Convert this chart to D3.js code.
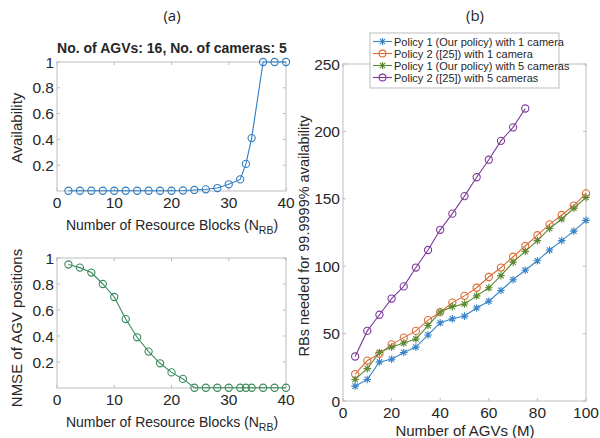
<!DOCTYPE html>
<html>
<head>
<meta charset="utf-8">
<script src="https://cdn.jsdelivr.net/npm/d3@7"></script>
<style>
  body { margin: 0; background: #fff; }
  svg { display: block; }
  text { font-family: "Liberation Sans", Arial, Helvetica, sans-serif; fill: #262626; }
</style>
</head>
<body>
<div id="chart"></div>
<script>
// data

// (a) top: availability vs number of RBs
const rbBlocks = [2,4,6,8,10,12,14,16,18,20,22,24,26,28,30,32,33,34,36,38,40]
const availability = [0.002,0.002,0.002,0.002,0.002,0.002,0.002,0.002,0.002,0.002,0.004,0.008,0.013,0.023,0.052,0.09,0.21,0.41,1,1,1]
// (a) bottom: NMSE vs number of RBs
const nmse = [0.95,0.926,0.888,0.80,0.70,0.53,0.39,0.28,0.19,0.12,0.07,0.002,0.002,0.002,0.002,0.002,0.002,0.002,0.002,0.002,0.002]

// (b) RBs needed vs number of AGVs
const agvs = [5,10,15,20,25,30,35,40,45,50,55,60,65,70,75,80,85,90,95,100]
const policy1Cam1 = [11,16,29,31,36,40,49,58,61,63,69,74,82,90,97,104,112,119,126,134]
const policy2Cam1 = [20,30,35,42,47,52,60,66,73,78,84,92,99,107,115,123,131,138,145,154]
const policy1Cam5 = [16,24,36,40,43,46,56,66,70,72,78,84,93,103,111,119,128,135,143,151]
const policy2Cam5 = [33,52,64,76,85,99,112,127,139,152,166,179,193,203,217]

const legendLabels = [
    'Policy 1 (Our policy) with 1 camera',
    'Policy 2 ([25]) with 1 camera',
    'Policy 1 (Our policy) with 5 cameras',
    'Policy 2 ([25]) with 5 cameras'
]

const W = 600, H = 438
const boxColor = '#bdbdbd'
const tickFont = 15.5

let svg = d3.select('#chart').append('svg')
    .attr('width', W)
    .attr('height', H)

// asterisk marker like matlab '*'
function starPath(r) {
    let d = r * 0.72
    return `M${-r},0L${r},0M0,${-r}L0,${r}M${-d},${-d}L${d},${d}M${-d},${d}L${d},${-d}`
}

// draw one axes box with inward ticks on all sides
function drawAxes(x, y, xTicks, yTicks, fmtY) {
    let [x0, x1] = x.range(), [y0, y1] = y.range()
    let g = svg.append('g')

    g.append('rect')
        .attr('x', x0).attr('y', y1)
        .attr('width', x1 - x0).attr('height', y0 - y1)
        .attr('fill', 'none')
        .attr('stroke', boxColor)
        .attr('stroke-width', 1)

    let tl = 3
    xTicks.forEach(t => {
        g.append('line').attr('x1', x(t)).attr('x2', x(t)).attr('y1', y0).attr('y2', y0 - tl).attr('stroke', boxColor)
        g.append('line').attr('x1', x(t)).attr('x2', x(t)).attr('y1', y1).attr('y2', y1 + tl).attr('stroke', boxColor)
        g.append('text')
            .attr('x', x(t)).attr('y', y0 + 17)
            .attr('text-anchor', 'middle')
            .attr('font-size', tickFont)
            .text(t)
    })
    yTicks.forEach(t => {
        g.append('line').attr('x1', x0).attr('x2', x0 + tl).attr('y1', y(t)).attr('y2', y(t)).attr('stroke', boxColor)
        g.append('line').attr('x1', x1).attr('x2', x1 - tl).attr('y1', y(t)).attr('y2', y(t)).attr('stroke', boxColor)
        g.append('text')
            .attr('x', x0 - 3).attr('y', y(t) + 5.5)
            .attr('text-anchor', 'end')
            .attr('font-size', tickFont)
            .text(fmtY ? fmtY(t) : t)
    })
    return g
}

function drawSeries(x, y, xs, ys, color, marker) {
    let pts = ys.map((v, i) => [xs[i], v])
    let line = d3.line().x(d => x(d[0])).y(d => y(d[1]))
    let g = svg.append('g')
    g.append('path')
        .attr('d', line(pts))
        .attr('fill', 'none')
        .attr('stroke', color)
        .attr('stroke-width', 1.1)
    pts.forEach(p => {
        if (marker == 'o') {
            g.append('circle')
                .attr('cx', x(p[0])).attr('cy', y(p[1]))
                .attr('r', 3.6)
                .attr('fill', 'none')
                .attr('stroke', color)
                .attr('stroke-width', 1.1)
        } else {
            g.append('path')
                .attr('d', starPath(3.8))
                .attr('transform', `translate(${x(p[0])},${y(p[1])})`)
                .attr('stroke', color)
                .attr('stroke-width', 1.1)
        }
    })
}

function xLabelRB(px, py) {
    let t = svg.append('text')
        .attr('x', px).attr('y', py)
        .attr('text-anchor', 'middle')
        .attr('font-size', 14)
    t.append('tspan').text('Number of Resource Blocks (N')
    t.append('tspan').attr('font-size', 10.5).attr('dy', 4).text('RB')
    t.append('tspan').attr('dy', -4).text(')')
}

function yLabel(px, py, label, size) {
    svg.append('text')
        .attr('transform', `translate(${px},${py}) rotate(-90)`)
        .attr('text-anchor', 'middle')
        .attr('font-size', size)
        .text(label)
}

let fmt01 = d => d == 1 ? '1' : d3.format('.1f')(d)

// ---------- panel (a) ----------
svg.append('text')
    .attr('x', 172).attr('y', 21)
    .attr('text-anchor', 'middle')
    .attr('font-size', 15)
    .style('font-family', '"Open Sans", sans-serif')
    .text('(a)')

let xa = d3.scaleLinear().domain([0, 40]).range([57, 286])
let ya1 = d3.scaleLinear().domain([0, 1]).range([191, 62])
drawAxes(xa, ya1, [0,10,20,30,40], [0.2,0.4,0.6,0.8,1], fmt01)
drawSeries(xa, ya1, rbBlocks, availability, '#2f7ec4', 'o')
svg.append('text')
    .attr('x', 172).attr('y', 53)
    .attr('text-anchor', 'middle')
    .attr('font-size', 14)
    .attr('font-weight', 'bold')
    .attr('fill', '#000')
    .text('No. of AGVs: 16, No. of cameras: 5')
xLabelRB(172, 230)
yLabel(22, 128, 'Availability', 15)

let ya2 = d3.scaleLinear().domain([0, 1]).range([388, 258])
drawAxes(xa, ya2, [0,10,20,30,40], [0.2,0.4,0.6,0.8,1], fmt01)
drawSeries(xa, ya2, rbBlocks, nmse, '#3a8a5c', 'o')
xLabelRB(172, 427)
yLabel(22, 328, 'NMSE of AGV positions', 15)

// ---------- panel (b) ----------
svg.append('text')
    .attr('x', 475).attr('y', 21)
    .attr('text-anchor', 'middle')
    .attr('font-size', 15)
    .style('font-family', '"Open Sans", sans-serif')
    .text('(b)')

let xb = d3.scaleLinear().domain([0, 100]).range([343, 586])
let yb = d3.scaleLinear().domain([0, 250]).range([401, 64])
drawAxes(xb, yb, [0,20,40,60,80,100], [0,50,100,150,200,250])

let seriesB = [
    {xs: agvs, ys: policy1Cam1, color: '#3a85c8', marker: '*'},
    {xs: agvs, ys: policy2Cam1, color: '#dd6a35', marker: 'o'},
    {xs: agvs, ys: policy1Cam5, color: '#5b8a33', marker: '*'},
    {xs: agvs.slice(0, policy2Cam5.length), ys: policy2Cam5, color: '#7e3a98', marker: 'o'}
]
seriesB.forEach(s => drawSeries(xb, yb, s.xs, s.ys, s.color, s.marker))

svg.append('text')
    .attr('x', 465).attr('y', 436)
    .attr('text-anchor', 'middle')
    .attr('font-size', 15)
    .text('Number of AGVs (M)')
yLabel(309, 236, 'RBs needed for 99.9999% availability', 14.5)

// legend
let lg = svg.append('g')
lg.append('rect')
    .attr('x', 370).attr('y', 33)
    .attr('width', 189).attr('height', 55)
    .attr('fill', '#fff')
    .attr('stroke', boxColor)
seriesB.forEach((s, i) => {
    let ly = 41.5 + i * 12
    lg.append('line')
        .attr('x1', 373).attr('x2', 392).attr('y1', ly).attr('y2', ly)
        .attr('stroke', s.color).attr('stroke-width', 1.1)
    if (s.marker == 'o') {
        lg.append('circle').attr('cx', 382.5).attr('cy', ly).attr('r', 3.4)
            .attr('fill', 'none').attr('stroke', s.color).attr('stroke-width', 1.1)
    } else {
        lg.append('path').attr('d', starPath(3.6))
            .attr('transform', `translate(382.5,${ly})`)
            .attr('stroke', s.color).attr('stroke-width', 1.1)
    }
    lg.append('text')
        .attr('x', 394).attr('y', ly + 4)
        .attr('font-size', 11)
        .attr('fill', '#000')
        .text(legendLabels[i])
})
</script>
</body>
</html>
